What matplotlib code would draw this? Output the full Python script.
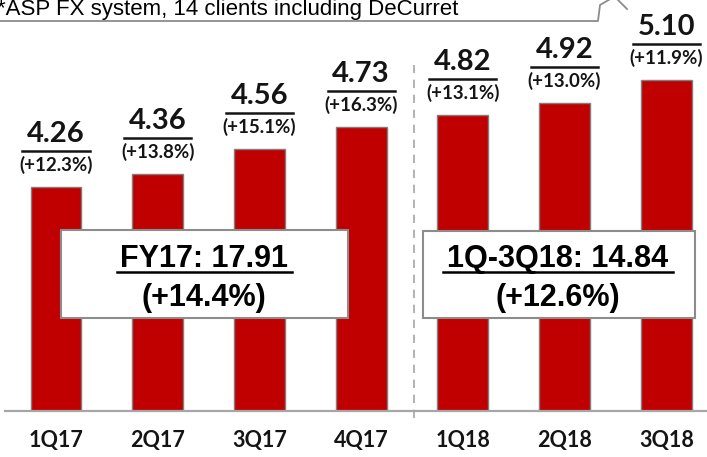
import matplotlib.pyplot as plt
from matplotlib.transforms import offset_copy
from matplotlib.patches import Rectangle
from matplotlib import font_manager as fm

quarters = ['1Q17', '2Q17', '3Q17', '4Q17', '1Q18', '2Q18', '3Q18']
values = [4.26, 4.36, 4.56, 4.73, 4.82, 4.92, 5.10]
growth = ['(+12.3%)', '(+13.8%)', '(+15.1%)', '(+16.3%)', '(+13.1%)', '(+13.0%)', '(+11.9%)']
box_titles = ['FY17: 17.91', '1Q-3Q18: 14.84']
box_growth = ['(+14.4%)', '(+12.6%)']
note = '*ASP FX system, 14 clients including DeCurret'

# pick a Calibri-like family that really has a bold face
lab_font = 'DejaVu Sans'
for fam in ['Lato', 'Roboto', 'Open Sans', 'Noto Sans']:
    try:
        path = fm.findfont(fm.FontProperties(family=fam, weight='bold'), fallback_to_default=False)
    except Exception:
        continue
    if 'bold' in path.lower():
        lab_font = fam
        break

W, H = 707, 457
fig = plt.figure(figsize=(W / 100, H / 100), dpi=100)
ax = fig.add_axes([0, 46 / H, 1, 1 - 46 / H])
ax.set_xlim(-0.551, 6.40)
ax.set_ylim(2.5, 5.726)
ax.axis('off')

def px(x, y):
    return x / W, 1 - y / H

x = list(range(len(quarters)))
ax.bar(x, [v - 2.5 for v in values], bottom=2.5, width=0.5,
       color='#C00000', edgecolor='#7f7f7f', linewidth=1, zorder=2)

# baseline
ax.plot([-0.5, 6.45], [2.5, 2.5], color='#a6a6a6', lw=1.6, clip_on=False, zorder=3)

# divider between FY17 and FY18
ax.plot([3.52, 3.52], [2.445, 5.216], color='#a6a6a6', lw=1.2,
        ls=(0, (5, 4)), clip_on=False, zorder=1)

k = 0.9 if lab_font == 'DejaVu Sans' else 1.0
up_val = offset_copy(ax.transData, fig, x=0, y=53, units='dots')
up_line = offset_copy(ax.transData, fig, x=0, y=36, units='dots')
up_pct = offset_copy(ax.transData, fig, x=0, y=22, units='dots')
for i, v in enumerate(values):
    ax.text(i, v, f'{v:.2f}', transform=up_val, ha='center', va='center',
            fontsize=21 * k, fontweight='bold', family=lab_font, color='#141414')
    ax.plot([i - 0.33, i + 0.33], [v, v], transform=up_line, color='#141414',
            lw=1.8, clip_on=False)
    ax.text(i, v, growth[i], transform=up_pct, ha='center', va='center',
            fontsize=13.5 * k, fontweight='bold', family=lab_font, color='#141414')

# x labels
for i, q in enumerate(quarters):
    ax.text(i, 2.5, q, transform=offset_copy(ax.transData, fig, x=0, y=-29, units='dots'),
            ha='center', va='center', fontsize=15.5 * k, fontweight='bold',
            family=lab_font, color='#141414', clip_on=False)

# summary boxes
boxes = [(61, 230, 348, 318, 204, 117, 292), (423, 231, 695, 318, 558, 443, 673)]
for (l, t, r, b, cx, ul, ur), title, g in zip(boxes, box_titles, box_growth):
    x0, y0 = px(l, b)
    x1, y1 = px(r, t)
    fig.add_artist(Rectangle((x0, y0), x1 - x0, y1 - y0, transform=fig.transFigure,
                             facecolor='white', edgecolor='#8c8c8c', lw=1.5, zorder=5))
    fig.text(*px(cx, 259), title, ha='center', va='center', fontsize=22,
             fontweight='bold', family='Liberation Sans', zorder=6)
    fig.text(*px(cx, 298), g, ha='center', va='center', fontsize=22,
             fontweight='bold', family='Liberation Sans', zorder=6)
    fig.add_artist(plt.Line2D([px(ul, 0)[0], px(ur, 0)[0]],
                              [px(0, 272)[1]] * 2, transform=fig.transFigure,
                              color='black', lw=1.8, zorder=6))

# callout note at top (partly cut by the top edge, as in the source slide)
fig.text(*px(-3, 9), note, ha='left', va='center', fontsize=16,
         family='Liberation Sans', color='black')
pts = [(-5, 21), (598, 21), (600, 5), (612, -2)]
fig.add_artist(plt.Line2D([px(p[0], 0)[0] for p in pts], [px(0, p[1])[1] for p in pts],
                          transform=fig.transFigure, color='#8c8c8c', lw=1.3))
pts2 = [(616, -2), (627, 9)]
fig.add_artist(plt.Line2D([px(p[0], 0)[0] for p in pts2], [px(0, p[1])[1] for p in pts2],
                          transform=fig.transFigure, color='#8c8c8c', lw=1.3))

fig.savefig('out.png', dpi=100)
